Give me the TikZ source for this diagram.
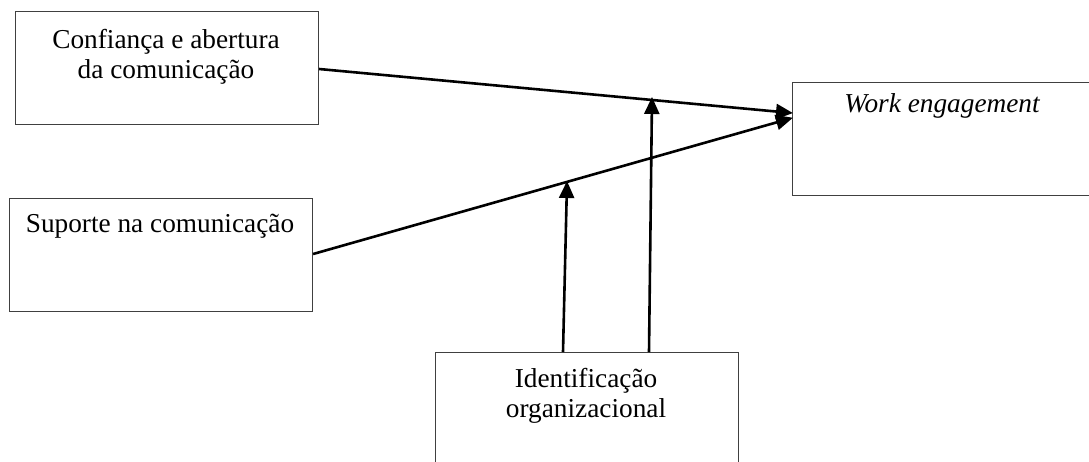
\documentclass[tikz,border=0pt]{standalone}
\usepackage{fontspec}
\setmainfont{Liberation Serif}
\usetikzlibrary{arrows.meta}
\begin{document}
\begin{tikzpicture}[x=1pt,y=-1pt,
  box/.style={draw=black!75,line width=1.1pt,minimum width=303pt,minimum height=113pt,inner sep=0pt,anchor=north west},
  txt/.style={font=\fontsize{27.3}{30}\selectfont,align=center,inner sep=0pt,anchor=base},
  arr/.style={line width=2.6pt,-{Triangle[length=17pt,width=15pt]},shorten >=-1pt}]
\useasboundingbox (0,0) rectangle (1089,461);
\clip (0,0) rectangle (1089,461);
\fill[white] (0,0) rectangle (1089,461);
\node[box] (b1) at (15,11) {};
\node[box] (b2) at (9,198) {};
\node[box] (b3) at (435,352) {};
\node[box] (b4) at (792,82) {};
\node[txt] (t1) at (166,78) {Confiança e abertura\\da comunicação};
\node[txt] (t2) at (160,232) {Suporte na comunicação};
\node[txt] (t3) at (586,417) {Identificação\\organizacional};
\node[txt] (t4) at (942,112) {\itshape Work engagement};
\coordinate (a1s) at (b1.east |- 0,69);
\coordinate (a1e) at (792,113);
\coordinate (a2s) at (b2.east |- 0,254);
\coordinate (a2e) at (792,118);
\coordinate (v1s) at (563,352);
\coordinate (v1e) at (567,182);
\coordinate (v2s) at (649,352);
\coordinate (v2e) at (652,98);
\draw[arr] (a1s) -- (a1e);
\draw[arr] (a2s) -- (a2e);
\draw[arr] (v1s) -- (v1e);
\draw[arr] (v2s) -- (v2e);
\end{tikzpicture}
\end{document}
